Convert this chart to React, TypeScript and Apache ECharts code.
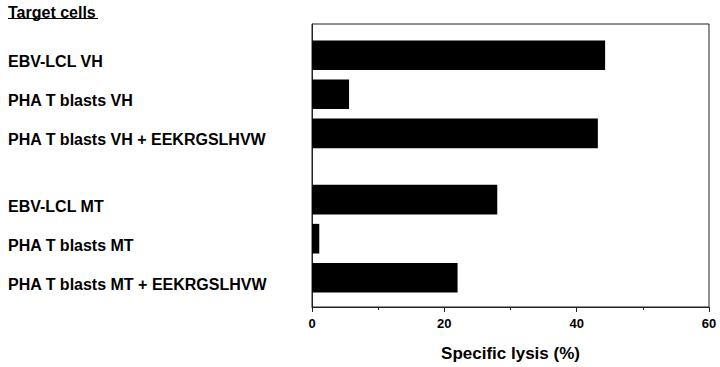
import React, { useEffect, useRef } from "react";
import * as echarts from "echarts";

const categories = [
  "EBV-LCL VH",
  "PHA T blasts VH",
  "PHA T blasts VH + EEKRGSLHVW",
  "EBV-LCL MT",
  "PHA T blasts MT",
  "PHA T blasts MT + EEKRGSLHVW",
];
// row slot of each target cell (a gap separates the VH and MT groups)
const rowPositions = [1, 2, 3, 4.7, 5.7, 6.7];
const lysisValues = [44.3, 5.6, 43.2, 28.0, 1.1, 22.0];
const xTicks = [0, 20, 40, 60];

const FONT = "'Liberation Sans', Arial, Helvetica, sans-serif";

export default function App() {
  const ref = useRef<HTMLDivElement>(null);
  useEffect(() => {
    document.body.style.margin = "0";
    const chart = echarts.init(ref.current!, null, { renderer: "svg" });
    const data = lysisValues.map((v, i) => [v, rowPositions[i]]);
    chart.setOption({
      animation: false,
      backgroundColor: "#fff",
      textStyle: { fontFamily: FONT },
      grid: {
        left: 312,
        right: 11,
        top: 24,
        bottom: 57,
        show: true,
        borderColor: "#222",
        borderWidth: 1,
      },
      graphic: [
        {
          type: "text",
          left: 8,
          top: 4,
          style: {
            text: "Target cells",
            fontFamily: FONT,
            fontWeight: "bold",
            fontSize: 16,
            fill: "#000",
          },
        },
        {
          type: "line",
          shape: { x1: 8, y1: 18.5, x2: 98, y2: 18.5 },
          style: { stroke: "#000", lineWidth: 1.2 },
        },
      ],
      xAxis: {
        type: "value",
        min: xTicks[0],
        max: xTicks[xTicks.length - 1],
        interval: 20,
        name: "Specific lysis (%)",
        nameLocation: "middle",
        nameGap: 38,
        nameTextStyle: {
          fontFamily: FONT,
          fontWeight: "bold",
          fontSize: 17,
          color: "#000",
        },
        axisLine: { show: true, lineStyle: { color: "#222", width: 1 } },
        axisTick: { show: true, length: 5, lineStyle: { color: "#222" } },
        minorTick: { show: true, splitNumber: 2, length: 3, lineStyle: { color: "#222" } },
        splitLine: { show: false },
        minorSplitLine: { show: false },
        axisLabel: {
          fontFamily: FONT,
          fontWeight: "bold",
          fontSize: 13,
          color: "#000",
          margin: 10,
        },
      },
      yAxis: {
        type: "value",
        inverse: true,
        min: 0.2,
        max: 7.45,
        splitLine: { show: false },
        axisTick: { show: false },
        axisLine: { show: true, lineStyle: { color: "#222", width: 1 } },
        axisLabel: {
          customValues: rowPositions,
          formatter: (v: number) => {
            const i = rowPositions.findIndex((p) => Math.abs(p - v) < 1e-6);
            return i >= 0 ? categories[i] : "";
          },
          align: "left",
          verticalAlign: "top",
          lineHeight: 13,
          margin: 304,
          fontFamily: FONT,
          fontWeight: "bold",
          fontSize: 16,
          color: "#000",
        },
      },
      series: [
        {
          type: "custom",
          encode: { x: 0, y: 1 },
          data,
          renderItem: (params: any, api: any) => {
            const v = api.value(0);
            const y = api.value(1);
            const p0 = api.coord([0, y]);
            const p1 = api.coord([v, y]);
            const h = Math.abs(api.size([0, 0.76])[1]);
            return {
              type: "rect",
              shape: { x: p0[0], y: p0[1] - h / 2, width: p1[0] - p0[0], height: h },
              style: { fill: "#000" },
            };
          },
        },
      ],
    });
    return () => chart.dispose();
  }, []);
  return <div ref={ref} style={{ width: 720, height: 367 }} />;
}
